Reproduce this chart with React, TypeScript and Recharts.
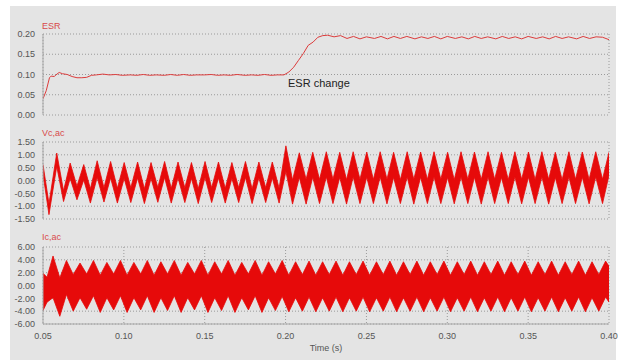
import React from 'react';
import { ComposedChart, Line, Area, XAxis, YAxis, CartesianGrid, Label } from 'recharts';

// ESR (ohm)
const esrTime = [
  0.050, 0.052, 0.054, 0.055, 0.057, 0.058, 0.060, 0.062, 0.065, 0.068, 0.071, 0.074, 0.077, 0.080, 0.083,
  0.087, 0.091, 0.095, 0.099, 0.104, 0.108, 0.112, 0.116, 0.120, 0.125, 0.129, 0.133, 0.137, 0.141, 0.145,
  0.150, 0.154, 0.158, 0.162, 0.166, 0.170, 0.175, 0.179, 0.183, 0.187, 0.191, 0.195, 0.199,
  0.202, 0.205, 0.208, 0.211, 0.214, 0.217, 0.220, 0.223, 0.226,
  0.230, 0.234, 0.238, 0.242, 0.246, 0.250, 0.255, 0.259, 0.263, 0.267, 0.271, 0.275, 0.280, 0.284,
  0.288, 0.292, 0.296, 0.300, 0.305, 0.309, 0.313, 0.317, 0.321, 0.325, 0.330, 0.334, 0.338, 0.342,
  0.346, 0.350, 0.355, 0.359, 0.363, 0.367, 0.371, 0.375, 0.380, 0.384, 0.388, 0.392, 0.396, 0.400,
];
const esrValue = [
  0.040, 0.060, 0.092, 0.096, 0.095, 0.099, 0.105, 0.102, 0.100, 0.095, 0.092, 0.092, 0.093, 0.098, 0.099,
  0.101, 0.099, 0.100, 0.098, 0.099, 0.098, 0.100, 0.098, 0.099, 0.098, 0.100, 0.098, 0.100, 0.098, 0.099,
  0.099, 0.100, 0.098, 0.099, 0.098, 0.100, 0.098, 0.099, 0.098, 0.100, 0.098, 0.099, 0.099,
  0.106, 0.118, 0.135, 0.152, 0.172, 0.180, 0.192, 0.196, 0.197,
  0.193, 0.196, 0.189, 0.194, 0.188, 0.193, 0.189, 0.194, 0.188, 0.194, 0.189, 0.194, 0.188, 0.193,
  0.189, 0.194, 0.188, 0.194, 0.189, 0.193, 0.188, 0.194, 0.189, 0.193, 0.188, 0.194, 0.189, 0.193,
  0.188, 0.194, 0.189, 0.193, 0.188, 0.194, 0.189, 0.193, 0.188, 0.194, 0.189, 0.193, 0.192, 0.186,
];

// Vc,ac: band corners at each peak / trough (upper and lower edge of the ripple)
const vcTime = [
  0.0500, 0.0537,
  0.0585, 0.0627, 0.0668, 0.0710, 0.0752, 0.0793, 0.0835, 0.0877, 0.0918, 0.0960,
  0.1002, 0.1043, 0.1085, 0.1127, 0.1168, 0.1210, 0.1252, 0.1293, 0.1335, 0.1377,
  0.1418, 0.1460, 0.1502, 0.1543, 0.1585, 0.1627, 0.1668, 0.1710, 0.1752, 0.1793,
  0.1835, 0.1877, 0.1918, 0.1960, 0.2002, 0.2043, 0.2085, 0.2127, 0.2168, 0.2210,
  0.2252, 0.2293, 0.2335, 0.2377, 0.2418, 0.2460, 0.2502, 0.2543, 0.2585, 0.2627,
  0.2668, 0.2710, 0.2752, 0.2793, 0.2835, 0.2877, 0.2918, 0.2960, 0.3002, 0.3043,
  0.3085, 0.3127, 0.3168, 0.3210, 0.3252, 0.3293, 0.3335, 0.3377, 0.3418, 0.3460,
  0.3502, 0.3543, 0.3585, 0.3627, 0.3668, 0.3710, 0.3752, 0.3793, 0.3835, 0.3877,
  0.3918, 0.3960, 0.4000,
];
const vcHigh = [
  0.62, -0.90,
  1.07, -0.40, 0.68, -0.22, 0.62, -0.32, 0.77, -0.28, 0.74, -0.30,
  0.70, -0.28, 0.72, -0.32, 0.70, -0.27, 0.74, -0.30, 0.72, -0.28,
  0.70, -0.32, 0.74, -0.28, 0.72, -0.30, 0.70, -0.28, 0.74, -0.32,
  0.72, -0.28, 0.72, -0.30, 1.35, 0.02, 1.08, 0.05, 1.10, 0.04,
  1.12, 0.05, 1.10, 0.03, 1.12, 0.05, 1.11, 0.04, 1.12, 0.05,
  1.10, 0.03, 1.12, 0.05, 1.11, 0.04, 1.12, 0.05, 1.10, 0.03,
  1.12, 0.05, 1.11, 0.04, 1.12, 0.05, 1.10, 0.03, 1.12, 0.05,
  1.11, 0.04, 1.12, 0.05, 1.10, 0.03, 1.12, 0.05, 1.11, 0.04,
  1.12, 0.05, 1.10,
];
const vcLow = [
  0.25, -1.33,
  0.55, -0.82, 0.08, -0.75, 0.02, -0.88, 0.12, -0.84, 0.10, -0.88,
  0.08, -0.86, 0.10, -0.90, 0.08, -0.85, 0.12, -0.88, 0.10, -0.86,
  0.08, -0.90, 0.12, -0.86, 0.10, -0.88, 0.08, -0.86, 0.12, -0.90,
  0.10, -0.86, 0.10, -0.88, 0.35, -0.92, 0.12, -0.92, 0.13, -0.90,
  0.14, -0.90, 0.12, -0.92, 0.14, -0.90, 0.13, -0.90, 0.14, -0.91,
  0.12, -0.90, 0.14, -0.92, 0.13, -0.90, 0.14, -0.90, 0.12, -0.91,
  0.14, -0.90, 0.13, -0.92, 0.14, -0.90, 0.12, -0.90, 0.14, -0.91,
  0.13, -0.90, 0.14, -0.92, 0.12, -0.90, 0.14, -0.90, 0.13, -0.91,
  0.14, -0.90, 0.20,
];

// Ic,ac: band corners at each upper peak / lower dip
const icTime = [
  0.0500, 0.0525,
  0.0562, 0.0604, 0.0645, 0.0687, 0.0729, 0.0770, 0.0812, 0.0854, 0.0895, 0.0937,
  0.0979, 0.1020, 0.1062, 0.1104, 0.1145, 0.1187, 0.1229, 0.1270, 0.1312, 0.1354,
  0.1395, 0.1437, 0.1479, 0.1520, 0.1562, 0.1604, 0.1645, 0.1687, 0.1729, 0.1770,
  0.1812, 0.1854, 0.1895, 0.1937, 0.1979, 0.2020, 0.2062, 0.2104, 0.2145, 0.2187,
  0.2229, 0.2270, 0.2312, 0.2354, 0.2395, 0.2437, 0.2479, 0.2520, 0.2562, 0.2604,
  0.2645, 0.2687, 0.2729, 0.2770, 0.2812, 0.2854, 0.2895, 0.2937, 0.2979, 0.3020,
  0.3062, 0.3104, 0.3145, 0.3187, 0.3229, 0.3270, 0.3312, 0.3354, 0.3395, 0.3437,
  0.3479, 0.3520, 0.3562, 0.3604, 0.3645, 0.3687, 0.3729, 0.3770, 0.3812, 0.3854,
  0.3895, 0.3937, 0.3979, 0.4000,
];
const icHigh = [
  1.9, 1.3,
  4.6, 1.2, 3.9, 1.7, 3.5, 1.8, 3.9, 1.6, 3.6, 1.8,
  3.9, 1.6, 3.6, 1.8, 3.9, 1.6, 3.7, 1.8, 3.9, 1.6,
  3.6, 1.8, 3.9, 1.6, 3.7, 1.8, 3.9, 1.6, 3.6, 1.8,
  3.9, 1.6, 3.7, 1.8, 3.9, 1.6, 3.7, 1.7, 3.8, 1.6,
  3.7, 1.7, 3.8, 1.6, 3.7, 1.7, 3.8, 1.6, 3.7, 1.7,
  3.8, 1.6, 3.7, 1.7, 3.8, 1.6, 3.7, 1.7, 3.8, 1.6,
  3.7, 1.7, 3.8, 1.6, 3.7, 1.7, 3.8, 1.6, 3.7, 1.7,
  3.8, 1.6, 3.7, 1.7, 3.8, 1.6, 3.7, 1.7, 3.8, 1.6,
  3.7, 1.7, 3.8, 3.0,
];
const icLow = [
  -3.9, -2.6,
  -1.9, -4.8, -1.4, -4.0, -1.9, -3.7, -1.6, -4.2, -1.9, -3.8,
  -1.6, -4.2, -1.9, -3.8, -1.6, -4.2, -1.9, -3.9, -1.6, -4.2,
  -1.9, -3.8, -1.6, -4.2, -1.9, -3.9, -1.6, -4.2, -1.9, -3.8,
  -1.6, -4.2, -1.9, -3.9, -1.7, -4.1, -1.9, -4.0, -1.8, -4.1,
  -1.9, -4.0, -1.8, -4.1, -1.9, -4.0, -1.8, -4.1, -1.9, -4.0,
  -1.8, -4.1, -1.9, -4.0, -1.8, -4.1, -1.9, -4.0, -1.8, -4.1,
  -1.9, -4.0, -1.8, -4.1, -1.9, -4.0, -1.8, -4.1, -1.9, -4.0,
  -1.8, -4.1, -1.9, -4.0, -1.8, -4.1, -1.9, -4.0, -1.8, -4.1,
  -1.9, -4.0, -1.8, -2.6,
];

const xTicks = [0.05, 0.1, 0.15, 0.2, 0.25, 0.3, 0.35, 0.4];
const esrTicks = [0, 0.05, 0.1, 0.15, 0.2];
const vcTicks = [-1.5, -1, -0.5, 0, 0.5, 1, 1.5];
const icTicks = [-6, -4, -2, 0, 2, 4, 6];

const esrData = esrTime.map((t, i) => ({ t, v: esrValue[i] }));
const vcData = vcTime.map((t, i) => ({ t, range: [vcLow[i], vcHigh[i]] }));
const icData = icTime.map((t, i) => ({ t, range: [icLow[i], icHigh[i]] }));

const FONT = '"Liberation Sans", Arial, sans-serif';
const FRAME = '#a8a8a8';
const RED = '#e60a0a';
const tickStyle = { fontSize: 9, fill: '#555', fontFamily: FONT };

function Panel({ data, yTicks, top, bottom, showTime, children }: any) {
  const xh = showTime ? 28 : 0;
  return (
    <div style={{ position: 'absolute', left: 0, top: 0 }}>
      <ComposedChart
        width={629}
        height={360}
        data={data}
        margin={{ top, right: 20, bottom: 360 - bottom - xh, left: 0 }}
      >
        <CartesianGrid stroke="#9a9a9a" strokeDasharray="1 2" />
        <XAxis
          dataKey="t"
          type="number"
          domain={[0.05, 0.4]}
          ticks={xTicks}
          interval={0}
          allowDataOverflow
          height={xh}
          tickLine={false}
          axisLine={{ stroke: FRAME }}
          tick={showTime ? tickStyle : false}
          tickMargin={3}
          tickFormatter={(v: number) => v.toFixed(2)}
        >
          {showTime && (
            <Label value="Time (s)" position="insideBottom" offset={1} style={{ fontSize: 9, fill: '#555', fontFamily: FONT }} />
          )}
        </XAxis>
        <XAxis
          xAxisId="top"
          orientation="top"
          type="number"
          domain={[0.05, 0.4]}
          height={0}
          tick={false}
          tickLine={false}
          axisLine={{ stroke: FRAME }}
        />
        <YAxis
          type="number"
          domain={[yTicks[0], yTicks[yTicks.length - 1]]}
          ticks={yTicks}
          interval={0}
          allowDataOverflow
          width={43}
          tickLine={false}
          axisLine={{ stroke: FRAME }}
          tick={tickStyle}
          tickFormatter={(v: number) => v.toFixed(2)}
        />
        <YAxis yAxisId="right" orientation="right" width={0} tick={false} tickLine={false} axisLine={{ stroke: FRAME }} />
        {children}
      </ComposedChart>
    </div>
  );
}

const labelStyle: React.CSSProperties = {
  position: 'absolute',
  left: 42,
  fontSize: 9,
  color: '#d84a4a',
  fontFamily: FONT,
  lineHeight: '10px',
};

export default function App() {
  return (
    <div style={{ position: 'absolute', left: 0, top: 0, width: 629, height: 360, background: '#fff', overflow: 'hidden' }}>
      <div style={{ position: 'absolute', left: 10, top: 6, width: 606, height: 354, background: '#e4e4e4' }} />
      <Panel data={esrData} yTicks={esrTicks} top={34} bottom={115}>
        <Line dataKey="v" type="linear" stroke="#dc3c3c" strokeWidth={1} dot={false} isAnimationActive={false} />
      </Panel>
      <Panel data={vcData} yTicks={vcTicks} top={142} bottom={219}>
        <Area dataKey="range" type="linear" stroke={RED} strokeWidth={0.8} fill={RED} fillOpacity={1} isAnimationActive={false} />
      </Panel>
      <Panel data={icData} yTicks={icTicks} top={247} bottom={324} showTime>
        <Area dataKey="range" type="linear" stroke={RED} strokeWidth={0.8} fill={RED} fillOpacity={1} isAnimationActive={false} />
      </Panel>
      <div style={{ ...labelStyle, top: 21 }}>ESR</div>
      <div style={{ ...labelStyle, top: 128 }}>Vc,ac</div>
      <div style={{ ...labelStyle, top: 232 }}>Ic,ac</div>
      <div style={{ position: 'absolute', left: 288, top: 77, fontSize: 11, color: '#222', fontFamily: FONT }}>ESR change</div>
    </div>
  );
}
